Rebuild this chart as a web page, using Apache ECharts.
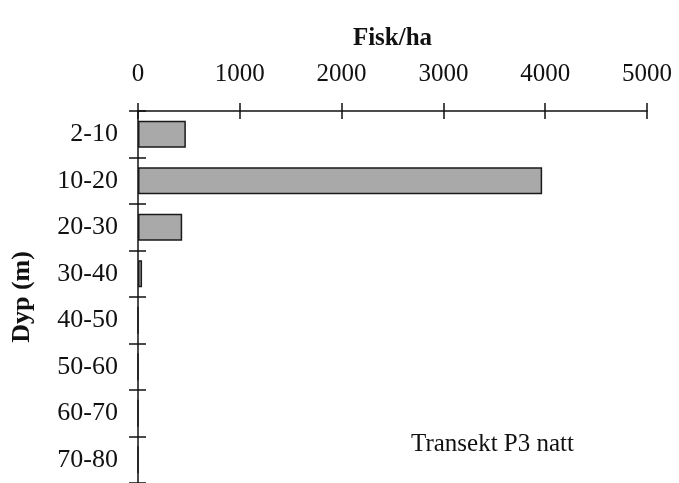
<!DOCTYPE html>
<html>
<head>
<meta charset="utf-8">
<script src="https://cdn.jsdelivr.net/npm/echarts@6/dist/echarts.min.js"></script>
<style>
  html, body { margin: 0; padding: 0; background: #fff; }
  #chart { width: 679px; height: 483px; }
</style>
</head>
<body>
<div id="chart"></div>
<script>
const categories = ['2-10', '10-20', '20-30', '30-40', '40-50', '50-60', '60-70', '70-80'];
const fiskPerHa = [470, 3970, 434, 40, 0, 0, 0, 0];
const xMin = 0, xMax = 5000, xStep = 1000;
const xTitle = 'Fisk/ha';
const yTitle = 'Dyp (m)';
const note = 'Transekt P3 natt';

const FONT = "'Liberation Serif', 'Times New Roman', serif";
const INK = '#111';

const chart = echarts.init(document.getElementById('chart'), null, { renderer: 'canvas' });

const valueAxisBase = {
  type: 'value', position: 'top', gridIndex: 0,
  min: xMin, max: xMax, interval: xStep,
  splitLine: { show: false }
};
const catAxisBase = {
  type: 'category', position: 'left', gridIndex: 0, inverse: true,
  data: categories, boundaryGap: true,
  splitLine: { show: false }
};

chart.setOption({
  animation: false,
  backgroundColor: '#fff',
  grid: { left: 138, top: 111, width: 509, height: 376, containLabel: false },
  xAxis: [
    Object.assign({}, valueAxisBase, {
      name: xTitle, nameLocation: 'middle', nameGap: 60,
      nameTextStyle: { fontFamily: FONT, fontSize: 25, fontWeight: 'bold', color: INK },
      axisLine: { show: true, lineStyle: { color: INK, width: 1.5 } },
      axisTick: { show: true, inside: false, length: 8, lineStyle: { color: INK, width: 1.5 } },
      axisLabel: { show: true, margin: 24, fontFamily: FONT, fontSize: 25, color: INK,
        formatter: function (v) { return String(v); } }
    }),
    Object.assign({}, valueAxisBase, {
      axisLine: { show: false },
      axisTick: { show: true, inside: true, length: 8, lineStyle: { color: INK, width: 1.5 } },
      axisLabel: { show: false }
    })
  ],
  yAxis: [
    Object.assign({}, catAxisBase, {
      name: yTitle, nameLocation: 'middle', nameGap: 103, nameRotate: 90,
      nameTextStyle: { fontFamily: FONT, fontSize: 26, fontWeight: 'bold', color: INK },
      axisLine: { show: true, lineStyle: { color: INK, width: 1.5 } },
      axisTick: { show: true, inside: false, length: 9, alignWithLabel: false, lineStyle: { color: INK, width: 1.5 } },
      axisLabel: { show: true, margin: 20, fontFamily: FONT, fontSize: 26, color: INK }
    }),
    Object.assign({}, catAxisBase, {
      axisLine: { show: false },
      axisTick: { show: true, inside: true, length: 8, alignWithLabel: false, lineStyle: { color: INK, width: 1.5 } },
      axisLabel: { show: false }
    })
  ],
  series: [{
    type: 'bar',
    xAxisIndex: 0, yAxisIndex: 0,
    data: fiskPerHa,
    barWidth: '58%',
    itemStyle: { color: '#a9a9a9', borderColor: '#1a1a1a', borderWidth: 1.5 }
  }],
  graphic: [{
    type: 'text', left: 411, top: 432,
    style: { text: note, font: '25px ' + FONT, fill: INK }
  }]
});
</script>
</body>
</html>
